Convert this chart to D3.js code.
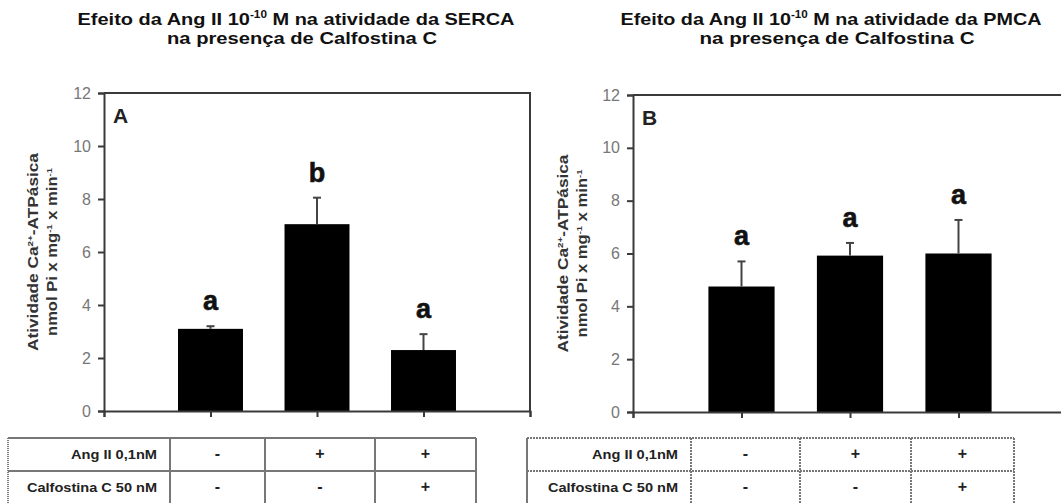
<!DOCTYPE html>
<html>
<head>
<meta charset="utf-8">
<script src="https://cdn.jsdelivr.net/npm/d3@7"></script>
<style>
  body { margin: 0; background: #fff; }
  text { font-family: Arial, "Liberation Sans", sans-serif; }
</style>
</head>
<body>
<div id="chart"></div>
<script>
/* Data */
var conditions = ["Controle", "Ang II", "Ang II + Calfostina C"];
var sercaValues = [3.1, 7.05, 2.3];
var sercaErrors = [0.1, 1.0, 0.6];
var sercaLetters = ["a", "b", "a"];
var pmcaValues = [4.75, 5.92, 6.0];
var pmcaErrors = [0.95, 0.48, 1.27];
var pmcaLetters = ["a", "a", "a"];
var yTicks = [0, 2, 4, 6, 8, 10, 12];
var rowLabels = ["Ang II 0,1nM", "Calfostina C 50 nM"];
var angRow = ["-", "+", "+"];
var calfRow = ["-", "-", "+"];

var svg = d3.select("#chart").append("svg")
  .attr("width", 1061)
  .attr("height", 503);

var axisColor = "#3a3a3a";
var rowLabelLen = [86, 130];

function drawPanel(p) {
  var g = svg.append("g");

  // x positions: 0..4 with categories at 1,2,3
  var x = d3.scalePoint()
    .domain(["start"].concat(conditions).concat(["end"]))
    .range([p.left, p.left + p.step * 4]);

  var y = d3.scaleLinear()
    .domain([0, 12])
    .range([p.bottom, p.top]);

  var barW = p.step * 0.61;

  /* Titles */
  var t1 = g.append("text")
    .attr("x", p.titleX).attr("y", 25)
    .attr("text-anchor", "middle")
    .attr("font-size", 17).attr("font-weight", "bold").attr("fill", "#111")
    .attr("textLength", p.t1Len).attr("lengthAdjust", "spacingAndGlyphs");
  t1.append("tspan").text("Efeito da Ang II 10");
  t1.append("tspan").attr("dy", -7).attr("font-size", 10).text("-10");
  t1.append("tspan").attr("dy", 7).text(" M na atividade da " + p.name);

  g.append("text")
    .attr("x", p.titleX + 6).attr("y", 44)
    .attr("text-anchor", "middle")
    .attr("font-size", 17).attr("font-weight", "bold").attr("fill", "#111")
    .attr("textLength", p.t2Len).attr("lengthAdjust", "spacingAndGlyphs")
    .text("na presença de Calfostina C");

  /* Y axis title */
  var yt = g.append("g")
    .attr("transform", "translate(" + p.yTitleX + "," + (p.top + p.bottom) / 2 + ") rotate(-90)");
  var l1 = yt.append("text")
    .attr("x", 0).attr("y", 0)
    .attr("text-anchor", "middle")
    .attr("font-size", 14).attr("font-weight", "bold").attr("fill", "#333")
    .attr("textLength", 198).attr("lengthAdjust", "spacingAndGlyphs");
  l1.append("tspan").text("Atividade Ca");
  l1.append("tspan").attr("dy", -5).attr("font-size", 8).text("2+");
  l1.append("tspan").attr("dy", 5).text("-ATPásica");
  var l2 = yt.append("text")
    .attr("x", 0).attr("y", 19)
    .attr("text-anchor", "middle")
    .attr("font-size", 14).attr("font-weight", "bold").attr("fill", "#333")
    .attr("textLength", 168).attr("lengthAdjust", "spacingAndGlyphs");
  l2.append("tspan").text("nmol Pi x mg");
  l2.append("tspan").attr("dy", -5).attr("font-size", 8).text("-1");
  l2.append("tspan").attr("dy", 5).text(" x min");
  l2.append("tspan").attr("dy", -5).attr("font-size", 8).text("-1");

  /* Frame (top and right) */
  g.append("path")
    .attr("d", "M" + p.left + "," + p.top + "H" + (p.left + p.step * 4) + "V" + p.bottom)
    .attr("fill", "none").attr("stroke", axisColor).attr("stroke-width", 2);

  /* Bars */
  g.selectAll("rect.bar").data(p.values)
    .enter().append("rect")
      .attr("class", "bar")
      .attr("x", function(d, i) { return x(conditions[i]) - barW / 2; })
      .attr("y", function(d) { return y(d); })
      .attr("width", barW)
      .attr("height", function(d) { return p.bottom - y(d); })
      .attr("fill", "#000");

  /* Error bars */
  var eb = g.selectAll("g.err").data(p.values)
    .enter().append("g").attr("class", "err");
  eb.append("line")
    .attr("x1", function(d, i) { return x(conditions[i]); })
    .attr("x2", function(d, i) { return x(conditions[i]); })
    .attr("y1", function(d) { return y(d); })
    .attr("y2", function(d, i) { return y(d + p.errors[i]); })
    .attr("stroke", "#444").attr("stroke-width", 2);
  eb.append("line")
    .attr("x1", function(d, i) { return x(conditions[i]) - 4; })
    .attr("x2", function(d, i) { return x(conditions[i]) + 4; })
    .attr("y1", function(d, i) { return y(d + p.errors[i]); })
    .attr("y2", function(d, i) { return y(d + p.errors[i]); })
    .attr("stroke", "#444").attr("stroke-width", 2);

  /* Significance letters */
  g.selectAll("text.sig").data(p.values)
    .enter().append("text")
      .attr("class", "sig")
      .attr("x", function(d, i) { return x(conditions[i]); })
      .attr("y", function(d, i) { return y(d + p.errors[i]) - 16; })
      .attr("text-anchor", "middle")
      .attr("font-size", 27).attr("font-weight", "bold").attr("fill", "#111")
      .attr("stroke", "#111").attr("stroke-width", 0.6)
      .text(function(d, i) { return p.letters[i]; });

  /* Y axis */
  var yAxis = g.append("g")
    .attr("transform", "translate(" + p.left + ",0)")
    .call(d3.axisLeft(y).tickValues(yTicks).tickSize(6).tickPadding(7));
  yAxis.select(".domain").attr("stroke", axisColor).attr("stroke-width", 2);
  yAxis.selectAll(".tick line").attr("stroke", axisColor).attr("stroke-width", 2);
  yAxis.selectAll(".tick text")
    .attr("font-size", 16).attr("fill", "#777")
    .attr("font-family", "Arial, 'Liberation Sans', sans-serif");

  /* X axis */
  var xAxis = g.append("g")
    .attr("transform", "translate(0," + p.bottom + ")")
    .call(d3.axisBottom(x).tickSize(6).tickFormat(""));
  xAxis.select(".domain").attr("stroke", axisColor).attr("stroke-width", 2);
  xAxis.selectAll(".tick line").attr("stroke", axisColor).attr("stroke-width", 2);

  /* Panel letter */
  g.append("text")
    .attr("x", p.left + 9).attr("y", p.top + 30)
    .attr("font-size", 21).attr("font-weight", "bold").attr("fill", "#222")
    .text(p.letter);

  /* Condition table */
  var cols = p.tableCols;
  var rows = [p.tableTop, p.tableTop + 33, p.tableTop + 66];
  var tb = g.append("g");
  var dash = p.dotted ? "2,1" : null;
  rows.forEach(function(ry) {
    tb.append("line")
      .attr("x1", cols[0]).attr("x2", cols[cols.length - 1])
      .attr("y1", ry).attr("y2", ry)
      .attr("stroke", "#777").attr("stroke-width", 2)
      .attr("stroke-dasharray", dash);
  });
  cols.forEach(function(cx, i) {
    tb.append("line")
      .attr("x1", cx).attr("x2", cx)
      .attr("y1", rows[0]).attr("y2", rows[2])
      .attr("stroke", "#777").attr("stroke-width", 2)
      .attr("stroke-dasharray", (i === 0 && !p.dotted) ? "1,1" : (i === 0 ? null : dash));
  });

  [angRow, calfRow].forEach(function(row, r) {
    var cy = rows[r] + 21;
    tb.append("text")
      .attr("x", cols[1] - 13).attr("y", cy)
      .attr("text-anchor", "end")
      .attr("font-size", 13).attr("font-weight", "bold").attr("fill", "#222")
      .attr("textLength", rowLabelLen[r]).attr("lengthAdjust", "spacingAndGlyphs")
      .text(rowLabels[r]);
    tb.selectAll("text.cell" + r).data(row)
      .enter().append("text")
        .attr("class", "cell" + r)
        .attr("x", function(d, i) { return (cols[i + 1] + cols[i + 2]) / 2; })
        .attr("y", cy)
        .attr("text-anchor", "middle")
        .attr("font-size", 16).attr("font-weight", "bold").attr("fill", "#222")
        .text(function(d) { return d; });
  });
}

drawPanel({
  name: "SERCA", letter: "A",
  values: sercaValues, errors: sercaErrors, letters: sercaLetters,
  left: 104, step: 106.5, top: 93, bottom: 411,
  titleX: 296, t1Len: 437, t2Len: 270, yTitleX: 38,
  tableCols: [8, 170, 265, 375, 476], tableTop: 438, dotted: false
});

drawPanel({
  name: "PMCA", letter: "B",
  values: pmcaValues, errors: pmcaErrors, letters: pmcaLetters,
  left: 633, step: 108.5, top: 95, bottom: 412,
  titleX: 831, t1Len: 421, t2Len: 275, yTitleX: 568,
  tableCols: [527, 691, 800, 911, 1014], tableTop: 438, dotted: true
});
</script>
</body>
</html>
